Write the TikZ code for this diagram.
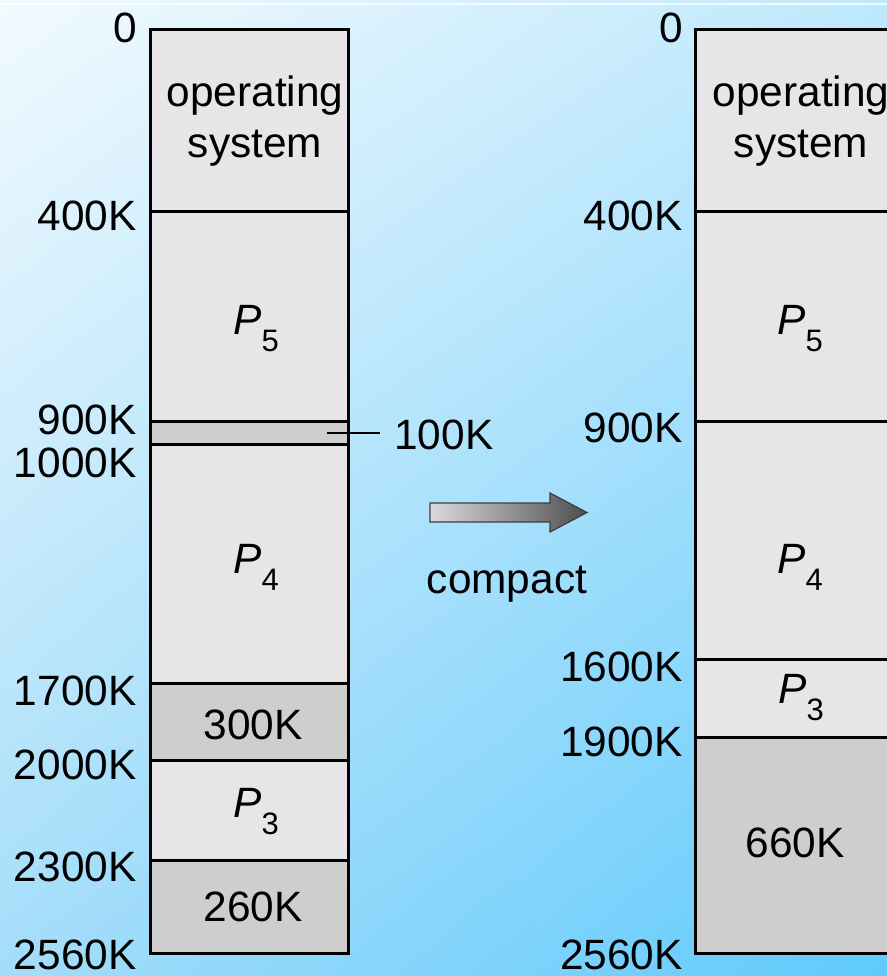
\documentclass[tikz,border=0pt]{standalone}
\usepackage{fontspec}
\setmainfont{Liberation Sans}
\usetikzlibrary{shadings}
\begin{document}
\begin{tikzpicture}[x=0.5pt,y=-0.5pt,
  lbl/.style={anchor=east,inner sep=0pt,font=\fontsize{21.2}{25}\selectfont},
  txt/.style={inner sep=0pt,font=\fontsize{21.2}{25.5}\selectfont,align=center},
  proc/.style={fill=procfill},
  hole/.style={fill=holefill},
  frame/.style={draw=black,line width=1.5pt},
  sep/.style={draw=black,line width=1.5pt}]
\definecolor{procfill}{HTML}{E7E5E7}
\definecolor{holefill}{HTML}{CECECE}
\definecolor{bgUL}{HTML}{F2FAFF}
\definecolor{bgUR}{HTML}{BEE8FC}
\definecolor{bgLL}{HTML}{A4DDF9}
\definecolor{bgLR}{HTML}{5FCAFD}
\definecolor{arrL}{HTML}{DADADA}
\definecolor{arrR}{HTML}{4E4E4E}
\useasboundingbox (0,0) rectangle (887,976);
\clip (0,0) rectangle (887,976);
\shade[upper left=bgUL,upper right=bgUR,lower left=bgLL,lower right=bgLR] (0,0) rectangle (887,976);
\draw[white,line width=1pt,opacity=0.8] (0,4) -- (887,4);

% ---------- left column ----------
\fill[proc] (150,29) rectangle (348,421);
\fill[hole] (150,421) rectangle (348,444);
\fill[proc] (150,444) rectangle (348,683);
\fill[hole] (150,683) rectangle (348,760);
\fill[proc] (150,760) rectangle (348,860);
\fill[hole] (150,860) rectangle (348,953);
\draw[sep] (150,211) -- (348,211);
\draw[sep] (150,421) -- (348,421);
\draw[sep] (150,444) -- (348,444);
\draw[sep] (150,683) -- (348,683);
\draw[sep] (150,760) -- (348,760);
\draw[sep] (150,860) -- (348,860);
\draw[frame] (150,29) rectangle (348,953);

\node[txt] (los) at (255,121) {operating\\system};
\node[txt] (lp5) at (256,329) {{\itshape P}\raisebox{-8.5pt}{\fontsize{15.5}{18}\selectfont 5}};
\node[txt] (lp4) at (256,567) {{\itshape P}\raisebox{-8.5pt}{\fontsize{15.5}{18}\selectfont 4}};
\node[txt] (lh300) at (253,725) {300K};
\node[txt] (lp3) at (256,812) {{\itshape P}\raisebox{-8.5pt}{\fontsize{15.5}{18}\selectfont 3}};
\node[txt] (lh260) at (253,907) {260K};

\node[lbl] (la0) at (137,28) {0};
\node[lbl] (la400) at (137,216) {400K};
\node[lbl] (la900) at (137,420) {900K};
\node[lbl] (la1000) at (137,463) {1000K};
\node[lbl] (la1700) at (137,691) {1700K};
\node[lbl] (la2000) at (137,765) {2000K};
\node[lbl] (la2300) at (137,867) {2300K};
\node[lbl] (la2560) at (137,955) {2560K};

\coordinate (c100) at (327,433);
\node[txt,anchor=west] (l100) at (394,435) {100K};
\draw[black,line width=1.2pt] (c100) -- (380,433);

% ---------- arrow ----------
\shade[left color=arrL,right color=arrR,draw=arrR!80!black,line width=0.6pt]
  (430,503) -- (550,503) -- (550,493) -- (587,512.5) -- (550,532) -- (550,522) -- (430,522) -- cycle;
\node[txt,anchor=base] (lcomp) at (507,593) {compact};

% ---------- right column ----------
\fill[proc] (695,29) rectangle (893,737);
\fill[hole] (695,737) rectangle (893,953);
\draw[sep] (695,211) -- (893,211);
\draw[sep] (695,421) -- (893,421);
\draw[sep] (695,659) -- (893,659);
\draw[sep] (695,737) -- (893,737);
\draw[frame] (695,29) rectangle (893,953);

\node[txt] (ros) at (801,121) {operating\\system};
\node[txt] (rp5) at (800,329) {{\itshape P}\raisebox{-8.5pt}{\fontsize{15.5}{18}\selectfont 5}};
\node[txt] (rp4) at (800,567) {{\itshape P}\raisebox{-8.5pt}{\fontsize{15.5}{18}\selectfont 4}};
\node[txt] (rp3) at (801,698) {{\itshape P}\raisebox{-8.5pt}{\fontsize{15.5}{18}\selectfont 3}};
\node[txt] (rh660) at (795,843) {660K};

\node[lbl] (ra0) at (683,28) {0};
\node[lbl] (ra400) at (683,216) {400K};
\node[lbl] (ra900) at (683,428) {900K};
\node[lbl] (ra1600) at (683,667) {1600K};
\node[lbl] (ra1900) at (683,742) {1900K};
\node[lbl] (ra2560) at (683,955) {2560K};
\end{tikzpicture}
\end{document}
